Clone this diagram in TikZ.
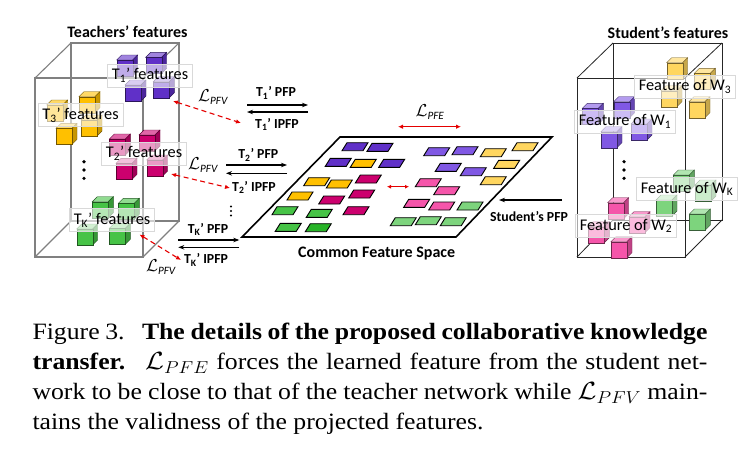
\documentclass[tikz,border=0pt]{standalone}
\usepackage{fontspec}
\setmainfont{Carlito}
\newfontfamily\capfont{Liberation Serif}
\usetikzlibrary{arrows.meta}
\definecolor{lpur}{RGB}{96,48,200}
\definecolor{lyel}{RGB}{255,192,0}
\definecolor{lmag}{RGB}{204,0,110}
\definecolor{lgre}{RGB}{70,195,70}
\definecolor{dgre}{RGB}{40,180,40}
\definecolor{rpur}{RGB}{128,88,228}
\definecolor{ryel}{RGB}{255,214,95}
\definecolor{rpnk}{RGB}{245,85,170}
\definecolor{rgre}{RGB}{125,212,125}
\definecolor{boxgray}{RGB}{128,128,128}
\newcommand\cubeat[3]{%
  \begin{scope}[shift={(#1,#2)}]
    \filldraw[fill=#3!60!white, draw=#3!45!black, line width=0.4pt] (0,0) -- (5,-5) -- (21,-5) -- (16,0) -- cycle;
    \filldraw[fill=#3!78!black, draw=#3!45!black, line width=0.4pt] (16,0) -- (21,-5) -- (21,11) -- (16,16) -- cycle;
    \filldraw[fill=#3, draw=#3!45!black, line width=0.4pt] (0,0) rectangle (16,16);
  \end{scope}}
\newcommand\tileat[3]{\filldraw[fill=#3, draw=black, line width=0.9pt, shift={(#1,#2)}] (-13,4) -- (8,4) -- (13,-4) -- (-8,-4) -- cycle;}
\tikzset{
  lab/.style={fill=white, fill opacity=0.6, text opacity=1, draw=black!15, line width=0.6pt,
    inner xsep=4.5pt, inner ysep=0pt, minimum height=23pt, font=\fontsize{16.3}{17}\selectfont, text=black},
  ttl/.style={font=\bfseries\fontsize{16}{17}\selectfont, inner sep=0pt},
  alab/.style={font=\bfseries\fontsize{13.8}{14}\selectfont, inner sep=0pt},
  flow/.style={-{Stealth[length=6pt,width=4.5pt]}, line width=1.1pt},
  redarr/.style={{Latex[length=5pt,width=4.5pt]}-{Latex[length=5pt,width=4.5pt]}, red!90!black, line width=1.1pt},
  loss/.style={font=\fontsize{16}{16}\selectfont, inner sep=0pt},
}
\begin{document}
\begin{tikzpicture}[x=1pt,y=-1pt]
\useasboundingbox (0,0) rectangle (738,450);
% ---------------- teachers box
\begin{scope}[boxgray, line width=1.1pt]
  \draw (71,43) rectangle (179,221);
  \draw (35,78) rectangle (143,257);
  \draw (35,78) -- (71,43) (143,78) -- (179,43) (143,257) -- (179,221) (35,257) -- (71,221);
\end{scope}
% ---------------- student box
\begin{scope}[black!85, line width=0.8pt]
  \draw (613,43) rectangle (722,220);
  \draw (577,78) rectangle (685,257);
  \draw (577,78) -- (613,43) (685,78) -- (722,43) (685,257) -- (722,220) (577,257) -- (613,220);
\end{scope}
% teacher cubes
\cubeat{116.7}{60}{lpur}\cubeat{145.7}{57.3}{lpur}\cubeat{125}{85}{lpur}\cubeat{153.3}{81.7}{lpur}
\cubeat{46.7}{105}{lyel}\cubeat{79}{96.7}{lyel}\cubeat{56}{128.3}{lyel}\cubeat{81}{120}{lyel}
\cubeat{109.3}{139}{lmag}\cubeat{139}{135}{lmag}\cubeat{116}{163.3}{lmag}\cubeat{146.7}{160}{lmag}
\cubeat{92.3}{201.7}{lgre}\cubeat{118.3}{203.3}{lgre}\cubeat{76.7}{229}{lgre}\cubeat{109.3}{228.3}{lgre}
% student cubes
\cubeat{666.7}{62.7}{ryel}\cubeat{694.3}{73.3}{ryel}\cubeat{661}{90.7}{ryel}\cubeat{689}{101.7}{ryel}
\cubeat{582.3}{108.3}{rpur}\cubeat{613.7}{101.7}{rpur}\cubeat{601}{131.7}{rpur}\cubeat{631}{124}{rpur}
\cubeat{673.3}{175}{rgre}\cubeat{695}{185}{rgre}\cubeat{656}{200}{rgre}\cubeat{689.3}{214}{rgre}
\cubeat{607.7}{202.7}{rpnk}\cubeat{629}{216.7}{rpnk}\cubeat{588.3}{226.7}{rpnk}\cubeat{611}{241.7}{rpnk}
% dots
\foreach \yy in {161.7,170,178.3} {\fill (84,\yy) circle (1.8pt); \fill (624,\yy) circle (1.8pt);}
\foreach \yy in {206.5,211,215.5} {\fill (231,\yy) circle (1.1pt);}
% labels
\node[ttl] (tt) at (127.5,32) {Teachers’ features};
\node[ttl] (st) at (668,33) {Student’s features};
\node[lab] (t1) at (150,75.5) {T\textsubscript{1}’ features};
\node[lab] (t3) at (80.5,115) {T\textsubscript{3}’ features};
\node[lab] (t2) at (144,153.5) {T\textsubscript{2}’ features};
\node[lab] (tk) at (112,220) {T\textsubscript{K}’ features};
\node[lab] (w3) at (685,86.5) {Feature of W\textsubscript{3}};
\node[lab] (w1) at (625,121.5) {Feature of W\textsubscript{1}};
\node[lab] (wk) at (687,189) {Feature of W\textsubscript{K}};
\node[lab] (w2) at (626,226) {Feature of W\textsubscript{2}};
% common feature space
\draw[line width=1.6pt] (340,137) -- (552,137) -- (456,237) -- (242,237) -- cycle;
\tileat{355}{146.7}{lpur}\tileat{380}{147.3}{lpur}\tileat{338.3}{162.3}{lpur}\tileat{363.3}{163.3}{lyel}\tileat{391.7}{163.3}{lpur}
\tileat{316.7}{181.7}{lyel}\tileat{339.3}{184}{lyel}\tileat{368.3}{179}{lmag}
\tileat{300}{196}{lyel}\tileat{331.7}{200}{lmag}\tileat{361.7}{194}{lmag}
\tileat{285}{210.7}{lgre}\tileat{319.3}{213.3}{lgre}\tileat{356}{210.7}{lmag}
\tileat{288.3}{227.3}{lgre}\tileat{318.3}{227.7}{dgre}
\tileat{436.7}{151.7}{rpur}\tileat{465}{150.7}{rpur}\tileat{493.3}{152.7}{ryel}\tileat{525}{146.7}{ryel}
\tileat{448.3}{167.3}{rpur}\tileat{473.3}{171.7}{rpur}\tileat{506.7}{164.3}{ryel}
\tileat{428.3}{182.7}{rpnk}\tileat{493.3}{180.7}{ryel}\tileat{446.7}{190.7}{rpnk}
\tileat{416.7}{203.3}{rpnk}\tileat{441.7}{206}{rpnk}\tileat{470}{206}{rgre}
\tileat{403.3}{221.7}{rgre}\tileat{428.3}{220.7}{rgre}\tileat{453.3}{221.7}{rgre}
\node[ttl] (cfs) at (376.7,254) {Common Feature Space};
% loss arrows near space
\node[loss] (lpfe) at (430,112) {$\mathcal{L}_{\mathit{PFE}}$};
\coordinate (e1) at (398,126.7); \coordinate (e2) at (461,126.7);
\draw[redarr] (e1) -- (e2);
\coordinate (m1) at (387,186.7); \coordinate (m2) at (409,186.7);
\draw[redarr, {Latex[length=4pt,width=4pt]}-{Latex[length=4pt,width=4pt]}] (m1) -- (m2);
% student PFP
\coordinate (sp1) at (562,200); \coordinate (sp2) at (499,200);
\draw[flow] (sp1) -- (sp2);
\node[alab] (spl) at (529,216.5) {Student’s PFP};
% teacher projections
\coordinate (a1s) at (247,105); \coordinate (a1e) at (308,105);
\coordinate (b1s) at (308,112); \coordinate (b1e) at (247,112);
\draw[flow] (a1s) -- (a1e); \draw[flow] (b1s) -- (b1e);
\node[alab] (p1) at (276,93) {T\textsubscript{1}’ PFP};
\node[alab] (q1) at (277,124.3) {T\textsubscript{1}’ IPFP};
\coordinate (a2s) at (226,165); \coordinate (a2e) at (287,165);
\coordinate (b2s) at (287,173.3); \coordinate (b2e) at (226,173.3);
\draw[flow] (a2s) -- (a2e); \draw[flow] (b2s) -- (b2e);
\node[alab] (p2) at (258.3,155) {T\textsubscript{2}’ PFP};
\node[alab] (q2) at (254,187.7) {T\textsubscript{2}’ IPFP};
\coordinate (aks) at (178.3,240); \coordinate (ake) at (239.3,240);
\coordinate (bks) at (239.3,247.3); \coordinate (bke) at (178.3,247.3);
\draw[flow] (aks) -- (ake); \draw[flow] (bks) -- (bke);
\node[alab] (pk) at (208,229.5) {T\textsubscript{K}’ PFP};
\node[alab] (qk) at (206,260) {T\textsubscript{K}’ IPFP};
% PFV losses
\coordinate (r1a) at (173,101); \coordinate (r1b) at (241,123);
\coordinate (r2a) at (171,174); \coordinate (r2b) at (230,188);
\coordinate (r3a) at (139.5,234.5); \coordinate (r3b) at (181,260);
\draw[redarr, dash pattern=on 5pt off 3.5pt] (r1a) -- (r1b);
\draw[redarr, dash pattern=on 5pt off 3.5pt] (r2a) -- (r2b);
\draw[redarr, dash pattern=on 5pt off 3.5pt] (r3a) -- (r3b);
\node[loss] (l1) at (213,97) {$\mathcal{L}_{\mathit{PFV}}$};
\node[loss] (l2) at (203,165) {$\mathcal{L}_{\mathit{PFV}}$};
\node[loss] (l3) at (161,267) {$\mathcal{L}_{\mathit{PFV}}$};
% caption
\node[anchor=base west, inner sep=0pt] (cap) at (32.3,339.3) {\scalebox{1.1}[1]{\parbox[t]{613.6pt}{\capfont\fontsize{23.4}{30}\selectfont
Figure 3.\hspace{0.35em} \textbf{The details of the proposed collaborative knowledge}\linebreak
\textbf{transfer.}\hspace{0.3em} $\mathcal{L}_{PFE}$ forces the learned feature from the student net-\linebreak
work to be close to that of the teacher network while $\mathcal{L}_{PFV}$ main-\linebreak
tains the validness of the projected features.}}};
\end{tikzpicture}
\end{document}
